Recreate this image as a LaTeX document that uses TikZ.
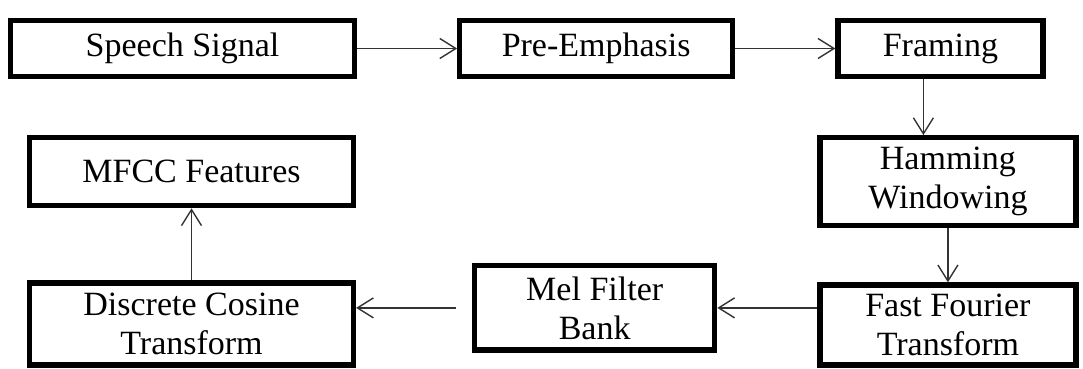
\documentclass[tikz,border=0pt]{standalone}
\usepackage{fontspec}
\setmainfont{Liberation Serif}
\usetikzlibrary{arrows.meta,positioning}

\begin{document}
\begin{tikzpicture}[
  >={Straight Barb[length=8pt,width=10pt]},
  every node/.style={font=\fontsize{17}{19.5}\selectfont},
  box/.style={draw, line width=2.6pt, align=center, inner sep=0pt},
  flow/.style={->, line width=0.7pt, black!80}
]
  \useasboundingbox (0,0) rectangle (541.5pt,-184.5pt);

  % Top row
  \node (sig) [box, minimum width=172pt, minimum height=28pt] at (91.25pt,-24.25pt) {Speech Signal};
  \node (pre) [box, minimum width=136.5pt, minimum height=28pt, right=50pt of sig] {Pre-Emphasis};
  \node (frm) [box, minimum width=102.5pt, minimum height=28pt, right=50pt of pre] {Framing};

  % Right column
  \node (ham) [box, minimum width=128pt, minimum height=44pt, below=28pt of frm, xshift=3.75pt] {Hamming\\Windowing};
  \node (fft) [box, minimum width=128pt, minimum height=40pt, below=27pt of ham] {Fast Fourier\\Transform};

  % Bottom row and left column
  \node (mel) [box, minimum width=120pt, minimum height=42pt, left=50pt of fft, yshift=8.5pt] {Mel Filter\\Bank};
  \node (dct) [box, minimum width=162pt, minimum height=41pt, left=58pt of mel, yshift=-8pt] {Discrete Cosine\\Transform};
  \node (mfcc) [box, minimum width=162pt, minimum height=34pt, above=36pt of dct] {MFCC Features};

  % Arrows
  \draw[flow] (sig) -- (pre);
  \draw[flow] (pre) -- (frm);
  \draw[flow] ([xshift=-8.5pt]frm.south) -- ([xshift=-8.5pt]frm.south |- ham.north);
  \draw[flow] (ham) -- (fft);
  \draw[flow] (fft.west |- mel.east) -- (mel.east);
  \draw[flow, shorten <=8pt] (mel.west) -- (mel.west -| dct.east);
  \draw[flow] (dct) -- (mfcc);
\end{tikzpicture}
\end{document}
